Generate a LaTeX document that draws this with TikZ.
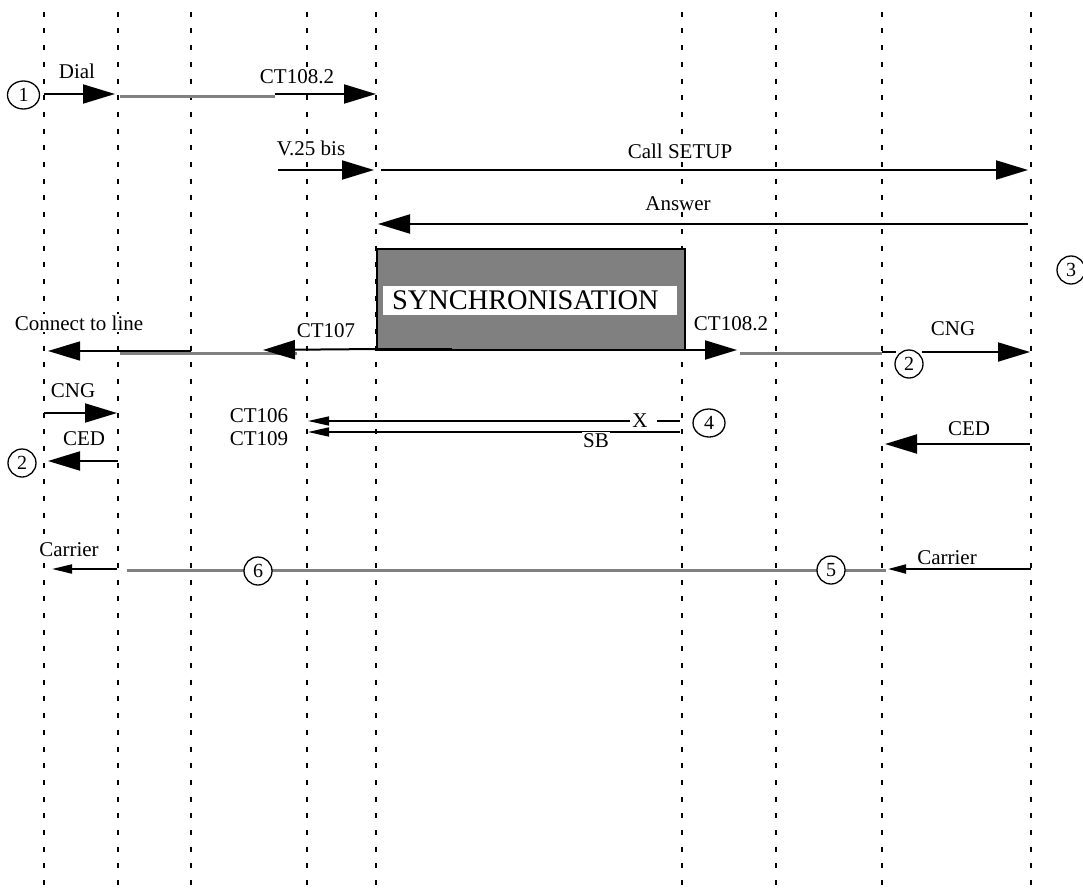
\documentclass[tikz,border=0pt]{standalone}
\usepackage{fontspec}
\setmainfont{Liberation Serif}
\usetikzlibrary{arrows.meta,shapes.geometric}
\begin{document}
\begin{tikzpicture}[x=1pt,y=-1pt,
  life/.style={line width=2pt, dash pattern=on 5pt off 11.7pt},
  msg/.style={line width=2pt},
  thin/.style={line width=1.5pt},
  grayline/.style={line width=3pt, draw=gray},
  big/.style={-{Triangle[length=32pt,width=19pt]}},
  small/.style={-{Triangle[length=21pt,width=9pt]}},
  lbl/.style={font=\fontsize{21}{24}\selectfont, fill=white, inner sep=1.5pt, anchor=base},
  num/.style={draw, circle, fill=white, line width=1.3pt, minimum size=28pt, inner sep=0pt, font=\fontsize{20}{22}\selectfont},
  nume/.style={num, ellipse, minimum width=32pt, minimum height=28pt},
]
\useasboundingbox (0,0) rectangle (1083,891);

% lifelines
\foreach \n/\x in {1/44,2/118,3/191,4/307,5/376,6/682,7/776,8/882,9/1031}{
  \coordinate (T\n) at (\x,11.7);
  \coordinate (B\n) at (\x,891);
  \draw[life] (T\n) -- (B\n);
}

% ---- row 1: Dial / CT108.2
\coordinate (d1) at (44,94);   \coordinate (d2) at (115,94);
\coordinate (g1) at (120,96);  \coordinate (g2) at (275,96);
\coordinate (e1) at (275,94);  \coordinate (e2) at (376,94);
\draw[msg,big] (d1) -- (d2);
\draw[grayline] (g1) -- (g2);
\draw[msg,big] (e1) -- (e2);
\node[lbl] (tdial) at (77,78) {Dial};
\node[lbl] (tct1) at (297,83) {CT108.2};
\node[nume] (n1) at (23.5,95) {1};

% ---- row 2: V.25 bis / Call SETUP
\coordinate (v1) at (278,170); \coordinate (v2) at (374,170);
\coordinate (s1) at (381,170); \coordinate (s2) at (1028,170);
\draw[msg,big] (v1) -- (v2);
\draw[msg,big] (s1) -- (s2);
\node[lbl] (tv) at (311,155) {V.25 bis};
\node[lbl] (tcall) at (680,158) {Call SETUP};

% ---- row 3: Answer
\coordinate (a1) at (1028,224); \coordinate (a2) at (378,224);
\draw[msg,big] (a1) -- (a2);
\node[lbl] (tans) at (678,210) {Answer};
\node[num] (n3) at (1071,270) {3};

% ---- synchronisation box
\node[draw, fill=gray, line width=2pt, minimum width=308pt, minimum height=101pt, inner sep=0pt] (sync) at (531,299.5) {};
\node[fill=white, minimum height=29pt, text width=276pt, inner xsep=9pt, inner ysep=0pt, align=left,
      font=\fontsize{28.4}{30}\selectfont] (synct) at (530,300.5) {SYNCHRONISATION};

% ---- row 4: Connect to line / CT107 / CT108.2 / CNG
\coordinate (c1) at (191,351); \coordinate (c2) at (48,351);
\coordinate (cg1) at (120,353); \coordinate (cg2) at (297,353);
\coordinate (k1) at (377,349); \coordinate (k2) at (263,350);
\coordinate (kb1) at (377,349); \coordinate (kb2) at (452,349);
\draw[thin,big] (c1) -- (c2);
\draw[grayline] (cg1) -- (cg2);
\draw[msg,big] (k1) -- (k2);
\draw[line width=3pt] (kb1) -- (kb2);
\node[lbl] (tconn) at (79,330) {Connect to line};
\node[lbl] (tct107) at (326,337) {CT107};

\coordinate (r1) at (685,350); \coordinate (r2) at (737,350);
\coordinate (rg1) at (740,353); \coordinate (rg2) at (882,353);
\coordinate (q1) at (882,352); \coordinate (q2) at (896,352);
\coordinate (q3) at (922,352); \coordinate (q4) at (1030,352);
\draw[msg,big] (r1) -- (r2);
\draw[grayline] (rg1) -- (rg2);
\draw[msg] (q1) -- (q2);
\draw[msg,big] (q3) -- (q4);
\node[lbl] (tct2) at (731,330) {CT108.2};
\node[lbl] (tcngr) at (953,335) {CNG};
\node[num] (n2r) at (909,364) {2};

% ---- CNG / CED left
\coordinate (l1) at (44,413); \coordinate (l2) at (117,413);
\draw[msg,big] (l1) -- (l2);
\node[lbl] (tcngl) at (73,397) {CNG};
\coordinate (m1) at (118,461); \coordinate (m2) at (48,461);
\draw[msg,big] (m1) -- (m2);
\node[lbl] (tcedl) at (84,445) {CED};
\node[num] (n2l) at (22,463) {2};

% ---- CT106 / CT109
\coordinate (x1) at (680,421); \coordinate (x2) at (657,421);
\coordinate (x3) at (630,421); \coordinate (x4) at (308,421);
\draw[thin] (x1) -- (x2);
\draw[thin,small] (x3) -- (x4);
\node[lbl, fill=none] (tx) at (640,427) {X};
\coordinate (y1) at (680,432); \coordinate (y2) at (308,432);
\draw[thin,small] (y1) -- (y2);
\node[lbl] (tsb) at (596,447) {SB};
\node[lbl] (tct106) at (259,422) {CT106};
\node[lbl] (tct109) at (259,445) {CT109};
\node[nume] (n4) at (709,423) {4};

% ---- CED right
\coordinate (w1) at (1030,444); \coordinate (w2) at (885,444);
\draw[msg,big] (w1) -- (w2);
\node[lbl] (tcedr) at (969,435) {CED};

% ---- Carrier
\coordinate (cl1) at (117,569); \coordinate (cl2) at (52,569);
\draw[msg,-{Triangle[length=20pt,width=9pt]}] (cl1) -- (cl2);
\node[lbl] (tcarl) at (69,556) {Carrier};
\coordinate (cgl) at (127,570); \coordinate (cgr) at (886,570);
\draw[grayline] (cgl) -- (cgr);
\coordinate (cr1) at (1031,569); \coordinate (cr2) at (888,569);
\draw[msg,-{Triangle[length=18pt,width=9pt]}] (cr1) -- (cr2);
\node[lbl] (tcarr) at (947,564) {Carrier};
\node[num] (n6) at (258,571) {6};
\node[num] (n5) at (831,570) {5};
\end{tikzpicture}
\end{document}
